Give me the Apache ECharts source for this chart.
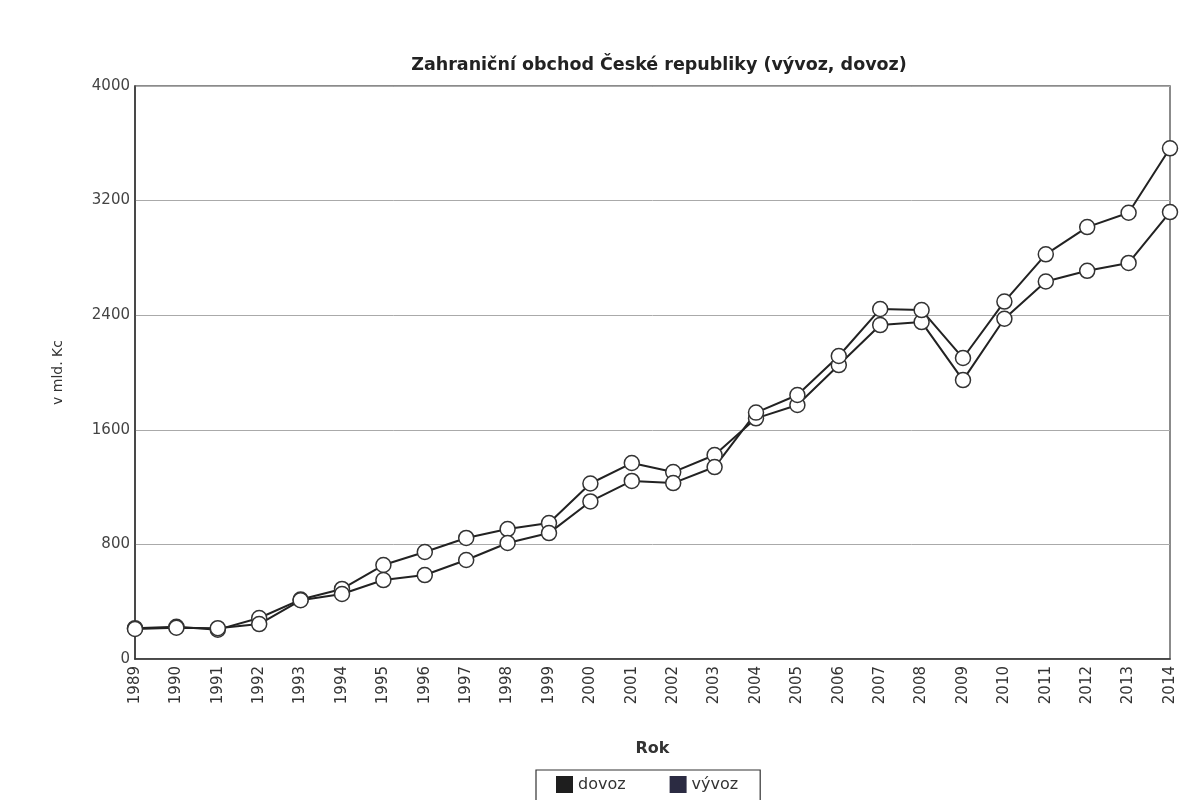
<!DOCTYPE html>
<html><head><meta charset="utf-8">
<script src="https://cdn.jsdelivr.net/npm/echarts@6/dist/echarts.min.js"></script>
<style>html,body{margin:0;padding:0;background:#fff}#c{width:1183px;height:800px}</style>
</head><body><div id="c"></div>
<script>
const years = ['1989','1990','1991','1992','1993','1994','1995','1996','1997','1998','1999','2000','2001','2002','2003','2004','2005','2006','2007','2008','2009','2010','2011','2012','2013','2014'];
const dovoz = [215,225,205,286,415,489,656,747,845,907,949,1225,1368,1305,1424,1680,1773,2052,2331,2352,1947,2375,2635,2710,2765,3120];
const vyvoz = [210,218,215,244,410,454,551,586,691,810,879,1100,1243,1228,1340,1720,1843,2115,2443,2436,2101,2495,2825,3015,3115,3565];
const yTicks = [0,800,1600,2400,3200,4000];

const font = 'DejaVu Sans, Verdana, sans-serif';
const chart = echarts.init(document.getElementById('c'));
const mkSeries = (name, data) => ({
  name, type: 'line', data,
  symbol: 'circle', symbolSize: 15,
  lineStyle: {color: '#222', width: 2},
  itemStyle: {color: '#fff', borderColor: '#333', borderWidth: 1.5},
  emphasis: {disabled: true},
  animation: false
});
chart.setOption({
  backgroundColor: '#fff',
  title: {
    text: 'Zahraniční obchod České republiky (vývoz, dovoz)',
    left: 654, top: 51, textAlign: 'center',
    textStyle: {fontFamily: font, fontSize: 17.5, fontWeight: 'bold', color: '#222'}
  },
  grid: {left: 135, right: 13, top: 86, bottom: 141, show: true, borderColor: '#666', borderWidth: 1.5},
  legend: {
    top: 770, left: 536,
    data: [
      {name: 'dovoz', itemStyle: {color: '#1e1e1e', borderWidth: 0}},
      {name: 'vývoz', itemStyle: {color: '#2b2b42', borderWidth: 0}}
    ],
    icon: 'rect', itemWidth: 17, itemHeight: 17, itemGap: 44,
    borderColor: '#333', borderWidth: 1.2, padding: [6, 22, 10, 20],
    textStyle: {fontFamily: font, fontSize: 16, color: '#333'}
  },
  xAxis: {
    type: 'category', data: years, boundaryGap: false,
    name: 'Rok', nameLocation: 'middle', nameGap: 82,
    nameTextStyle: {fontFamily: font, fontSize: 16, fontWeight: 'bold', color: '#333'},
    axisLine: {lineStyle: {color: '#333', width: 1.5}},
    axisTick: {show: false},
    axisLabel: {rotate: 90, fontFamily: font, fontSize: 15, color: '#333', margin: 7}
  },
  yAxis: {
    type: 'value', min: yTicks[0], max: yTicks[yTicks.length-1], interval: 800,
    name: 'v mld. Kc', nameLocation: 'middle', nameGap: 70,
    nameTextStyle: {fontFamily: font, fontSize: 14, color: '#333'},
    axisLine: {show: true, lineStyle: {color: '#333', width: 1.5}},
    axisTick: {show: false},
    axisLabel: {fontFamily: font, fontSize: 15, color: '#444', margin: 5, formatter: v => String(v)},
    splitLine: {lineStyle: {color: '#aaa', width: 1}}
  },
  series: [mkSeries('dovoz', dovoz), mkSeries('vývoz', vyvoz)]
});
</script></body></html>
